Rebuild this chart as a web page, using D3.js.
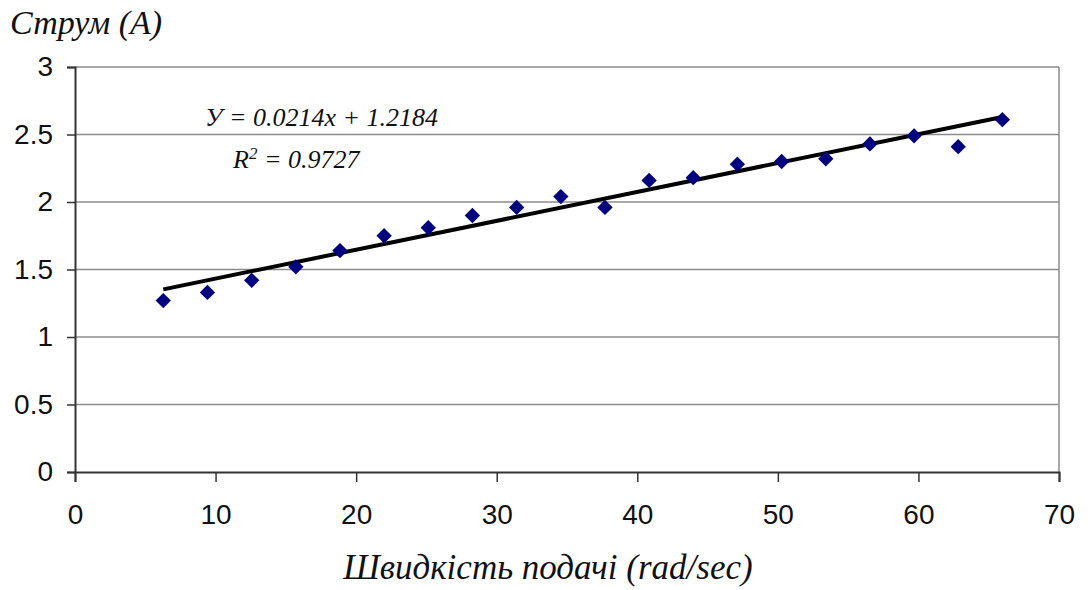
<!DOCTYPE html>
<html><head><meta charset="utf-8">
<script src="https://cdn.jsdelivr.net/npm/d3@7"></script>
<style>body{margin:0;background:#fff}svg{display:block}</style>
</head><body>
<svg id="c" width="1088" height="590"></svg>
<script>
const speeds = [6.28, 9.42, 12.57, 15.71, 18.85, 21.99, 25.13, 28.27, 31.42, 34.56, 37.70, 40.84, 43.98, 47.12, 50.27, 53.41, 56.55, 59.69, 62.83, 65.97];
const currents = [1.27, 1.33, 1.42, 1.52, 1.64, 1.75, 1.81, 1.90, 1.96, 2.04, 1.96, 2.16, 2.18, 2.28, 2.30, 2.32, 2.43, 2.49, 2.41, 2.61];
const slope = 0.0214, intercept = 1.2184;
const xTicks = [0, 10, 20, 30, 40, 50, 60, 70];
const yTicks = [0, 0.5, 1, 1.5, 2, 2.5, 3];
const yTickLabels = ["0", "0.5", "1", "1.5", "2", "2.5", "3"];

const svg = d3.select("#c");
const x = d3.scaleLinear().domain([0, 70]).range([75, 1059]);
const y = d3.scaleLinear().domain([0, 3]).range([472, 67]);

// gridlines
svg.append("g").selectAll("line").data(yTicks.filter(d => d > 0)).join("line")
  .attr("x1", x(0)).attr("x2", x(70)).attr("y1", d => y(d)).attr("y2", d => y(d))
  .attr("stroke", "#8c8c8c").attr("stroke-width", 1.5);
// right border
svg.append("line").attr("x1", x(70)).attr("x2", x(70)).attr("y1", y(3)).attr("y2", y(0))
  .attr("stroke", "#8c8c8c").attr("stroke-width", 1.5);

// axes
const yAxis = d3.axisLeft(y).tickValues(yTicks).tickFormat((d, i) => yTickLabels[i]).tickSize(8).tickPadding(14);
const gy = svg.append("g").attr("transform", `translate(${x(0)},0)`).call(yAxis);
const xAxis = d3.axisBottom(x).tickValues(xTicks).tickFormat(d3.format("d")).tickSize(10).tickPadding(22);
const gx = svg.append("g").attr("transform", `translate(0,${y(0)})`).call(xAxis);
[gx, gy].forEach(g => {
  g.select(".domain").attr("stroke", "#333").attr("stroke-width", 2);
  g.selectAll(".tick line").attr("stroke", "#333").attr("stroke-width", 1.5);
  g.selectAll("text").attr("fill", "#111").attr("font-family", "Liberation Sans, Arial, sans-serif").attr("font-size", 28);
});

// trend line
const x0 = d3.min(speeds), x1 = d3.max(speeds);
svg.append("line").attr("x1", x(x0)).attr("y1", y(slope * x0 + intercept))
  .attr("x2", x(x1)).attr("y2", y(slope * x1 + intercept))
  .attr("stroke", "#000").attr("stroke-width", 4);

// markers
const diamond = d3.symbol().type(d3.symbolDiamond2).size(150);
svg.append("g").selectAll("path").data(speeds.map((s, i) => [s, currents[i]])).join("path")
  .attr("d", diamond).attr("transform", d => `translate(${x(d[0])},${y(d[1])})`)
  .attr("fill", "#00007f");

// texts
const serif = "Liberation Serif, Times New Roman, serif";
svg.append("text").attr("x", 10).attr("y", 34).attr("font-family", serif).attr("font-style", "italic")
  .attr("font-size", 34).attr("fill", "#111").text("Струм (А)");
svg.append("text").attr("x", 548).attr("y", 579).attr("text-anchor", "middle").attr("font-family", serif)
  .attr("font-style", "italic").attr("font-size", 35).attr("fill", "#111").text("Швидкість подачі (rad/sec)");
svg.append("text").attr("x", 205).attr("y", 126).attr("font-family", serif).attr("font-style", "italic")
  .attr("font-size", 26).attr("fill", "#111").text(`У = ${slope}x + ${intercept}`);
const r2 = svg.append("text").attr("x", 233).attr("y", 168).attr("font-family", serif).attr("font-style", "italic")
  .attr("font-size", 26).attr("fill", "#111");
r2.append("tspan").text("R");
r2.append("tspan").attr("dy", -9).attr("font-size", 17).text("2");
r2.append("tspan").attr("dy", 9).text(" = 0.9727");
</script>
</body></html>
